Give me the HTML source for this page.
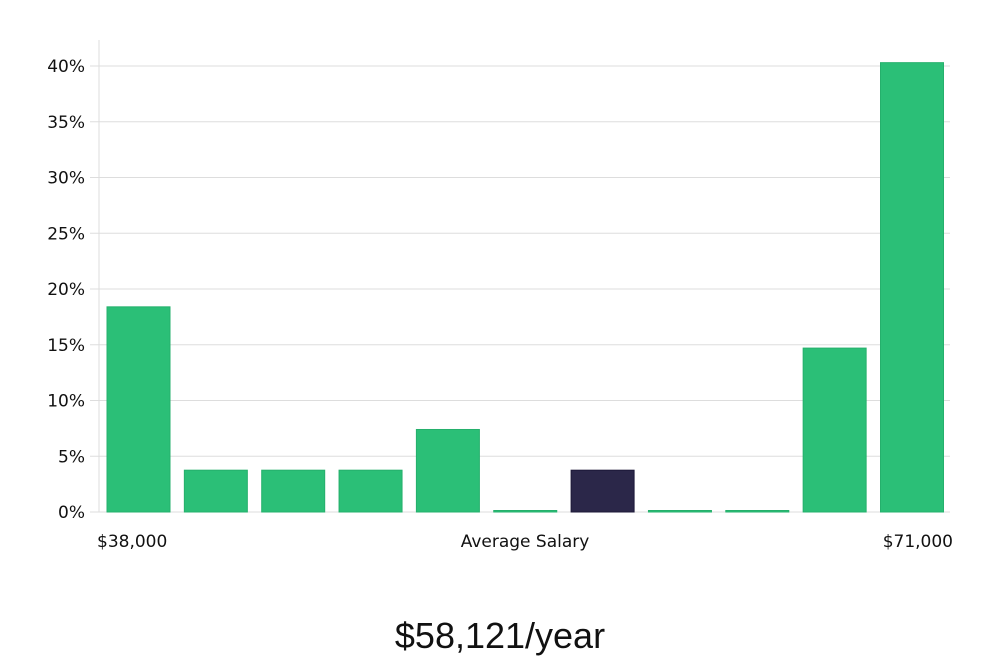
<!DOCTYPE html>
<html><head><meta charset="utf-8"><style>
body{margin:0;background:#fff;width:1000px;height:660px;overflow:hidden;font-family:"DejaVu Sans","Liberation Sans",sans-serif}
</style></head><body>
<svg id="chart" width="1000" height="660" xmlns="http://www.w3.org/2000/svg">
<g id="grid"></g>
<g id="bars"></g>
<g id="yticks"></g>
<text x="97" y="547" font-size="17" fill="#111">$38,000</text>
<text x="525" y="547" font-size="17" fill="#111" text-anchor="middle">Average Salary</text>
<text x="953" y="547" font-size="17" fill="#111" text-anchor="end">$71,000</text>
<text x="500" y="648" font-size="36" fill="#111" text-anchor="middle" font-family="'Liberation Sans',sans-serif">$58,121/year</text>
</svg>
<script>
const values=[18.4,3.75,3.75,3.75,7.4,0,3.75,0,0,14.7,40.3];
const highlight=[0,0,0,0,0,0,1,0,0,0,0];
const yTicks=[0,5,10,15,20,25,30,35,40];
const ns="http://www.w3.org/2000/svg";
const x0=99,x1=950,yBase=512,pxPer=(512-66)/40;
const y=v=>yBase-v*pxPer;
const step=77.35,bw=63,bx0=107;
const grid=document.getElementById('grid'),yt=document.getElementById('yticks'),bars=document.getElementById('bars');
function mk(t,a){const e=document.createElementNS(ns,t);for(const k in a)e.setAttribute(k,a[k]);return e;}
const ax=mk('line',{x1:x0,x2:x0,y1:40,y2:yBase,stroke:'#ddd'});


yt.appendChild(ax);
yTicks.forEach(t=>{
 const g=mk('line',{x1:90,x2:x1,y1:y(t),y2:y(t),stroke:'#ddd'});
 
 
 grid.appendChild(g);
 const l=mk('text',{x:85,y:y(t)+6,'font-size':17,fill:'#111','text-anchor':'end'});
 l.textContent=t+'%';
 
 
 yt.appendChild(l);
});
values.forEach((v,i)=>{
 const h=Math.max(v*pxPer,1.5);
 const hi=highlight[i];
 const r=mk('rect',{x:bx0+i*step,y:yBase-h,width:bw,height:h,fill:hi?'#2b2749':'#2bbf77',stroke:hi?'#1c1838':'#25b06c','stroke-width':1});
 
 
 bars.appendChild(r);
});
</script>
</body></html>
